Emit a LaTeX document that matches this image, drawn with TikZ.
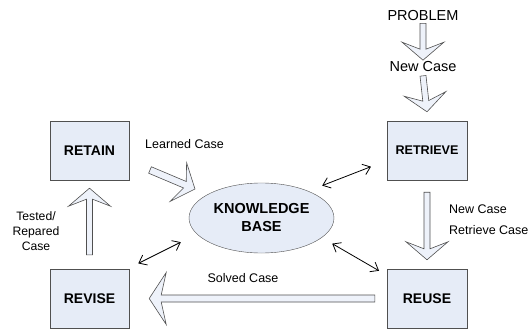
\documentclass[tikz,border=0pt]{standalone}
\usepackage{fontspec}
\setmainfont{Liberation Sans}
\usetikzlibrary{calc,arrows.meta,shapes.geometric}

\definecolor{boxfill}{HTML}{E6ECF7}
\definecolor{arrowfill}{HTML}{EEF2FA}
\definecolor{boxline}{HTML}{505050}

\tikzset{
  fatshaft/.store in=\fatshaft, fathead/.store in=\fathead,
  fatneck/.store in=\fatneck, fatbarb/.store in=\fatbarb,
  fatshaft=3pt, fathead=21pt, fatneck=11pt, fatbarb=18pt,
  stage/.style={draw=boxline, fill=boxfill, minimum width=79pt, minimum height=59pt,
    font=\bfseries\fontsize{14}{16}\selectfont},
  lbl/.style={font=\fontsize{12.5}{15}\selectfont, inner sep=2pt},
  biglbl/.style={font=\fontsize{14.5}{17}\selectfont, inner sep=2pt},
  dbl/.style={{Straight Barb[length=7pt,width=11pt]}-{Straight Barb[length=7pt,width=11pt]},
    line width=0.8pt},
  fat/.style={draw=boxline, fill=arrowfill, line width=0.6pt, line join=miter,
    to path={
      ($(\tikztostart)!\fatshaft!90:(\tikztotarget)$)
      -- ($(\tikztotarget)!\fatneck!(\tikztostart)!\fatshaft!-90:(\tikztostart)$)
      -- ($(\tikztotarget)!\fatbarb!(\tikztostart)!\fathead!-90:(\tikztostart)$)
      -- (\tikztotarget)
      -- ($(\tikztotarget)!\fatbarb!(\tikztostart)!\fathead!90:(\tikztostart)$)
      -- ($(\tikztotarget)!\fatneck!(\tikztostart)!\fatshaft!90:(\tikztostart)$)
      -- ($(\tikztostart)!\fatshaft!-90:(\tikztotarget)$) -- cycle}},
}

\begin{document}
\begin{tikzpicture}[x=1pt, y=-1pt]
    \useasboundingbox (0,0) rectangle (529,329);

    % the four stages
    \node[stage] (retain) at (89.5,150.5) {RETAIN};
    \node[stage] (revise) at (89.5,298.5) {REVISE};
    \node[stage, minimum width=80pt, font=\bfseries\fontsize{12.6}{15}\selectfont] (retrieve) at (427,150.5) {RETRIEVE};
    \node[stage, minimum width=80pt] (reuse) at (427,298.5) {REUSE};

    % knowledge base
    \node[ellipse, draw=boxline, fill=boxfill, minimum width=135pt, minimum height=70pt,
      align=center, font=\bfseries\fontsize{14.5}{18}\selectfont] (kb) at (261.5,218) {KNOWLEDGE\\BASE};

    % labels
    \node[biglbl] (problem) at (423,16) {PROBLEM};
    \node[biglbl] (newcase) at (423,66.5) {New Case};
    \node[lbl] (learned) at (184.5,144.5) {Learned Case};
    \node[lbl, align=center, font=\fontsize{12.2}{15}\selectfont] (tested) at (36,231) {Tested/\\Repared\\Case};
    \node[lbl] (solved) at (243,278) {Solved Case};
    \node[lbl, anchor=west] (newcase2) at (447,209) {New Case};
    \node[lbl, anchor=west] (retrcase) at (447,230) {Retrieve Case};

    % block arrows
    \draw[fat] (problem.south) to ([yshift=-1pt]newcase.north);
    \draw[fat] ([yshift=-2pt]newcase.south) to ([yshift=9pt]retrieve.north);
    \draw[fat] ([yshift=-12pt]retrieve.south) to ([yshift=9pt]reuse.north);
    \draw[fat, fatshaft=3.5pt, fathead=26pt, fatneck=12pt, fatbarb=17pt]
      ([xshift=-12pt]reuse.west) to ([xshift=20pt]revise.east);
    \draw[fat] ([yshift=14pt]revise.north) to ([yshift=-8pt]retain.south);
    \coordinate (lrnA) at (150,170);
    \coordinate (lrnB) at (195,189);
    \draw[fat, fatshaft=3.5pt] (lrnA) to (lrnB);

    % links to the knowledge base
    \draw[dbl, shorten <=15pt, shorten >=17pt] (kb.30) -- (retrieve.194);
    \draw[dbl, shorten <=12pt, shorten >=9pt] (kb.-18) -- (reuse.150);
    \draw[dbl, shorten <=18pt, shorten >=12pt] (kb.194) -- (revise.38);
\end{tikzpicture}
\end{document}
